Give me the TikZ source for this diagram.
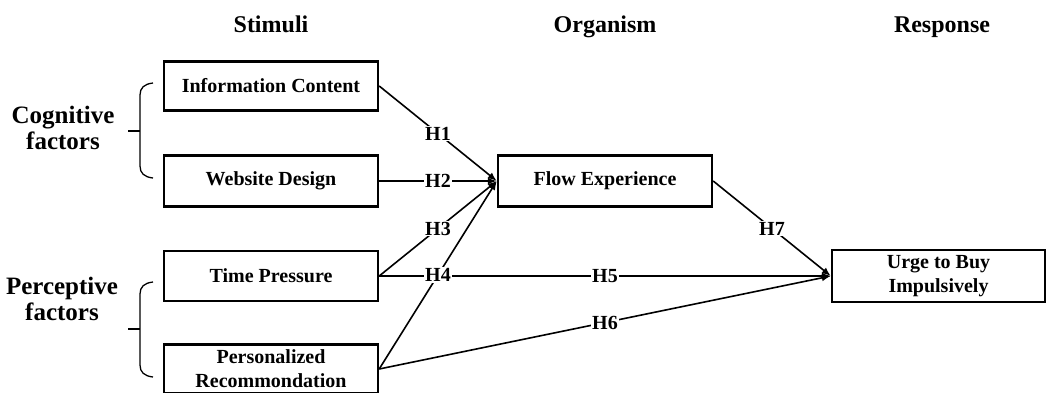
\documentclass[tikz,border=0pt]{standalone}
\usepackage{fontspec}
\setmainfont{Liberation Serif}
\usetikzlibrary{arrows.meta}
\begin{document}
\begin{tikzpicture}[x=1pt,y=-1pt,
  box/.style={draw, line width=2.4pt, minimum width=214pt, inner sep=0pt, align=center,
    font=\bfseries\fontsize{20}{24}\selectfont},
  head/.style={anchor=base, font=\bfseries\fontsize{24}{28}\selectfont},
  side/.style={align=center, font=\bfseries\fontsize{25}{26}\selectfont},
  conn/.style={line width=1.6pt, -{Latex[length=9pt,width=7pt]}},
  hlab/.style={midway, fill=white, inner sep=1pt, font=\bfseries\fontsize{20}{24}\selectfont},
  brc/.style={line width=1.3pt}
]
\useasboundingbox[fill=white] (0,0) rectangle (1047,392);

% headings
\node[head] (hs) at (271,32) {Stimuli};
\node[head] (ho) at (605,32) {Organism};
\node[head] (hr) at (942,32) {Response};

% boxes
\node[box, minimum height=49pt] (ic) at (271,86) {Information Content};
\node[box, minimum height=51pt] (wd) at (271,181) {Website Design};
\node[box, minimum height=50pt] (tp) at (271,276) {Time Pressure};
\node[box, minimum height=49pt] (pr) at (271,369) {Personalized\\Recommondation};
\node[box, minimum height=51pt] (fe) at (605,181) {Flow Experience};
\node[box, minimum height=52pt, minimum width=213pt] (ub) at (938.5,276) {Urge to Buy\\Impulsively};

% side labels
\node[side] (cf) at (63,128) {Cognitive\\factors};
\node[side] (pf) at (62,299) {Perceptive\\factors};

% braces
\draw[brc] (153,83) .. controls (144,84) and (140,88) .. (140,95) -- (140,166)
  .. controls (140,173) and (144,177) .. (153,178);
\draw[brc] (128,131) -- (140,131);
\draw[brc] (153,282) .. controls (144,283) and (140,287) .. (140,294) -- (140,365)
  .. controls (140,372) and (144,376) .. (153,377);
\draw[brc] (128,329) -- (140,329);

% connectors
\draw[conn] (ic.east) -- (fe.west) node[hlab] {H1};
\draw[conn] (wd.east) -- (fe.west) node[hlab] {H2};
\draw[conn] (tp.east) -- (fe.west) node[hlab] {H3};
\draw[conn] (tp.east) -- (ub.west) node[hlab] {H5};
\draw[conn] (pr.east) -- (ub.west) node[hlab] {H6};
\draw[conn] (pr.east) -- (fe.west) node[hlab] {H4};
\draw[conn] (fe.east) -- (ub.west) node[hlab] {H7};
\end{tikzpicture}
\end{document}
